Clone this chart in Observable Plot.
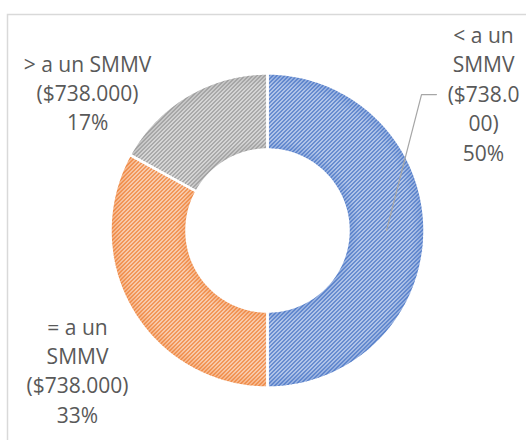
<!DOCTYPE html>
<html>
<head>
<meta charset="utf-8">
<script src="https://cdn.jsdelivr.net/npm/d3@7"></script>
<script src="https://cdn.jsdelivr.net/npm/@observablehq/plot@0.6"></script>
<style>
  html, body { margin: 0; padding: 0; background: #fff; }
  #chart svg { display: block; }
</style>
</head>
<body>
<div id="chart"></div>
<script>
// ---- data ----
const categories = ["< a un SMMV ($738.000)", "= a un SMMV ($738.000)", "> a un SMMV ($738.000)"];
const values = [50, 33, 17];
const percentLabels = ["50%", "33%", "17%"];
const labelLines = [
  ["< a un", "SMMV", "($738.0", "00)"],
  ["= a un", "SMMV", "($738.000)"],
  ["> a un SMMV", "($738.000)"]
];

// ---- styles / layout ----
const darkColors = ["#4472c4", "#ed7d31", "#949494"];
const lightColors = ["#d5dff4", "#fce4d3", "#ebebeb"];
const W = 526, H = 440;
const cx = 267, cy = 230, R = 157;      // pixels
const innerRatio = 81 / 157;
// label block anchors in radius units (top of first line, centre x)
const labelPos = [[1.376, -1.327], [-1.21, 0.53], [-1.146, -1.145]];

const pie = d3.pie().sort(null).startAngle(0).endAngle(2 * Math.PI)(values);

function slicePoints(p) {
  const pts = [];
  const n = 160;
  for (let i = 0; i <= n; i++) {
    const a = p.startAngle + (p.endAngle - p.startAngle) * i / n;
    pts.push({x: Math.sin(a), y: -Math.cos(a)});
  }
  for (let i = n; i >= 0; i--) {
    const a = p.startAngle + (p.endAngle - p.startAngle) * i / n;
    pts.push({x: innerRatio * Math.sin(a), y: -innerRatio * Math.cos(a)});
  }
  pts.push(pts[0]);
  return pts;
}

const sliceMarks = pie.flatMap((p, i) => {
  const pts = slicePoints(p);
  return [
    Plot.line(pts, {x: "x", y: "y", curve: "linear", fill: `url(#pat${i})`, stroke: "none"}),
    Plot.line(pts, {x: "x", y: "y", curve: "linear", fill: `url(#glow${i})`, stroke: "none"})
  ];
});
const sliceStrokes = pie.map((p, i) => Plot.line(slicePoints(p), {
  x: "x", y: "y", curve: "linear", fill: "none",
  stroke: "white", strokeWidth: 2.5, strokeLinejoin: "miter"
}));

// leader line for the first slice, starting at slice centroid
const p0 = pie[0];
const midA = (p0.startAngle + p0.endAngle) / 2;
const midR = (1 + innerRatio) / 2;
const leader = [
  {x: midR * Math.sin(midA), y: -midR * Math.cos(midA)},
  {x: 0.981, y: -0.866},
  {x: 1.076, y: -0.866}
];

const labels = categories.map((c, i) => ({
  x: labelPos[i][0], y: labelPos[i][1],
  text: [...labelLines[i], percentLabels[i]].join("\n")
}));

const chart = Plot.plot({
  width: W, height: H,
  margin: 0,
  style: {fontFamily: "'Open Sans', sans-serif", background: "white", overflow: "hidden"},
  x: {domain: [-cx / R, (W - cx) / R], range: [0, W], axis: null},
  y: {domain: [-cy / R, (H - cy) / R], range: [0, H], axis: null},
  marks: [
    Plot.frame({stroke: "#d9d9d9", strokeWidth: 1.5, insetLeft: 7, insetTop: 14, insetRight: -5, insetBottom: -5}),
    ...sliceMarks,
    ...sliceStrokes,
    Plot.line(leader, {x: "x", y: "y", stroke: "#a6a6a6", strokeWidth: 1.2, curve: "linear"}),
    Plot.text(labels, {
      x: "x", y: "y", text: "text",
      fontSize: 21, lineHeight: 1.4, fill: "#595959",
      textAnchor: "middle", lineAnchor: "top"
    })
  ]
});

// hatch patterns (wide upward diagonal) and soft edge glows
const defs = d3.create("svg:defs");
darkColors.forEach((dc, i) => {
  const pat = defs.append("pattern")
    .attr("id", `pat${i}`).attr("patternUnits", "userSpaceOnUse")
    .attr("width", 4).attr("height", 4);
  pat.append("rect").attr("width", 4).attr("height", 4).attr("fill", lightColors[i]);
  const cells = [[2,0],[3,0],[1,1],[2,1],[0,2],[1,2],[3,3],[0,3]];
  cells.forEach(([x, y]) => pat.append("rect")
    .attr("x", x).attr("y", y).attr("width", 1).attr("height", 1)
    .attr("fill", dc).attr("shape-rendering", "crispEdges"));
  const g = defs.append("radialGradient")
    .attr("id", `glow${i}`).attr("gradientUnits", "userSpaceOnUse")
    .attr("cx", cx).attr("cy", cy).attr("r", R);
  [[innerRatio, 0.35], [innerRatio + 0.07, 0], [0.92, 0], [1, 0.35]].forEach(([o, op]) =>
    g.append("stop").attr("offset", o).attr("stop-color", dc).attr("stop-opacity", op));
});
chart.insertBefore(defs.node(), chart.firstChild);

document.getElementById("chart").appendChild(chart);
</script>
</body>
</html>
